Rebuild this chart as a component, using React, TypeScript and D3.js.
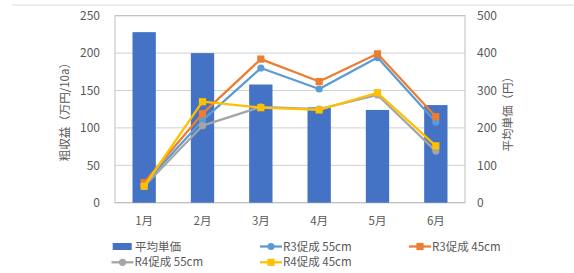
import React from "react";
import * as d3 from "d3";

const categories = ["1月", "2月", "3月", "4月", "5月", "6月"];
const avgPrice = [456, 400, 316, 255, 248, 261];
const r3_55 = [25, 110, 180, 152, 194, 108];
const r3_45 = [27, 119, 192, 162, 199, 115];
const r4_55 = [22, 103, 128, 125, 144, 69];
const r4_45 = [22, 135, 127, 124, 147, 76];
const leftTicks = [0, 50, 100, 150, 200, 250];
const rightTicks = [0, 100, 200, 300, 400, 500];

const FONT = "'Noto Sans CJK JP', 'Noto Sans', sans-serif";
const TXT = "#595959";

export default function App() {
  const W = 574, H = 273;
  const left = 115, right = 465, top = 15.7, bottom = 202.7;
  const x = d3.scaleBand().domain(categories).range([left, right]).paddingInner(0.6).paddingOuter(0.3);
  const xc = (c: string) => (x(c) as number) + x.bandwidth() / 2;
  const yL = d3.scaleLinear().domain([0, 250]).range([bottom, top]);
  const yR = d3.scaleLinear().domain([0, 500]).range([bottom, top]);
  const line = d3.line<number>().x((_, i) => xc(categories[i])).y((d) => yL(d));

  const series = [
    { name: "R3促成 55cm", data: r3_55, color: "#5B9BD5", marker: "circle" },
    { name: "R3促成 45cm", data: r3_45, color: "#ED7D31", marker: "square" },
    { name: "R4促成 55cm", data: r4_55, color: "#A5A5A5", marker: "circle" },
    { name: "R4促成 45cm", data: r4_45, color: "#FFC000", marker: "square" },
  ];

  const marker = (m: string, cx: number, cy: number, color: string, key: any) =>
    m === "circle" ? (
      <circle key={key} cx={cx} cy={cy} r={3.6} fill={color} />
    ) : (
      <rect key={key} x={cx - 3.6} y={cy - 3.6} width={7.2} height={7.2} fill={color} />
    );

  const legendItems = [
    { s: series[0], lx: 260, ly: 246.5 },
    { s: series[1], lx: 409, ly: 246.5 },
    { s: series[2], lx: 111.5, ly: 262.3 },
    { s: series[3], lx: 260, ly: 262.3 },
  ];

  return (
    <svg width={W} height={H} style={{ position: "absolute", left: 0, top: 0 }} fontFamily={FONT}>
      <rect width={W} height={H} fill="#fff" />
      <line x1={12} x2={574} y1={5} y2={5} stroke="#d9d9d9" strokeWidth={1} />
      {leftTicks.map((t) => (
        <line key={t} x1={left} x2={right} y1={yL(t)} y2={yL(t)} stroke={t === 0 ? "#bfbfbf" : "#d0d0d0"} strokeWidth={1} />
      ))}
      <rect x={left} y={top} width={right - left} height={bottom - top} fill="none" stroke="#bfbfbf" strokeWidth={1} />
      {categories.map((c, i) => (
        <rect key={c} x={x(c)} y={yR(avgPrice[i])} width={x.bandwidth()} height={bottom - yR(avgPrice[i])} fill="#4472C4" />
      ))}
      {series.map((s) => (
        <g key={s.name}>
          <path d={line(s.data) as string} fill="none" stroke={s.color} strokeWidth={2.25} strokeLinejoin="round" />
          {s.data.map((v, i) => marker(s.marker, xc(categories[i]), yL(v), s.color, i))}
        </g>
      ))}
      {leftTicks.map((t) => (
        <text key={t} x={100} y={yL(t)} dy="0.35em" textAnchor="end" fontSize={12} fill={TXT}>{t}</text>
      ))}
      {rightTicks.map((t) => (
        <text key={t} x={477} y={yR(t)} dy="0.35em" textAnchor="start" fontSize={12} fill={TXT}>{t}</text>
      ))}
      {categories.map((c) => (
        <text key={c} x={xc(c)} y={221} dy="0.35em" textAnchor="middle" fontSize={11.5} fill={TXT}>{c}</text>
      ))}
      <text transform={`translate(65,${(top + bottom) / 2}) rotate(-90)`} textAnchor="middle" dy="0.35em" fontSize={11.5} fill={TXT}>粗収益（万円/10a）</text>
      <text transform={`translate(508,${(top + bottom) / 2 + 2}) rotate(-90)`} textAnchor="middle" dy="0.35em" fontSize={11.5} fill={TXT}>平均単価（円）</text>
      <rect x={112.7} y={243} width={19} height={7} fill="#4472C4" />
      <text x={135} y={246.5} dy="0.35em" fontSize={11.5} fill={TXT}>平均単価</text>
      {legendItems.map(({ s, lx, ly }) => (
        <g key={s.name}>
          <line x1={lx} x2={lx + 22} y1={ly} y2={ly} stroke={s.color} strokeWidth={2.25} />
          {marker(s.marker, lx + 11, ly, s.color, "m")}
          <text x={lx + 23} y={ly} dy="0.35em" fontSize={11.5} fill={TXT}>{s.name}</text>
        </g>
      ))}
    </svg>
  );
}
